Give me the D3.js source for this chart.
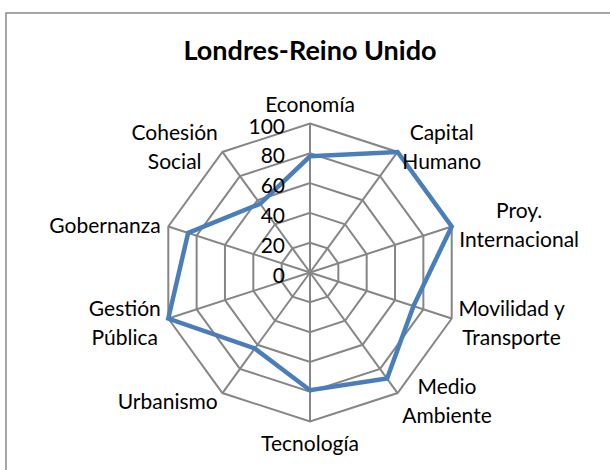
<!DOCTYPE html>
<html>
<head>
<meta charset="utf-8">
<script src="https://cdn.jsdelivr.net/npm/d3@7"></script>
<style>
  body { margin: 0; background: #fff; }
  svg { display: block; }
  text { font-family: Lato, "Open Sans", sans-serif; fill: #000; }
</style>
</head>
<body>
<div id="container"></div>
<script>
/**
 * DATA
 * */
const title = "Londres-Reino Unido";
const categories = [
  "Economía", "Capital\nHumano", "Proy.\nInternacional", "Movilidad y\nTransporte",
  "Medio\nAmbiente", "Tecnología", "Urbanismo", "Gestión\nPública",
  "Gobernanza", "Cohesión\nSocial"
];
const values = [78, 100, 100, 73, 88, 79, 63, 100, 86, 57];
const tickValues = [0, 20, 40, 60, 80, 100];

/**
 * CONSTANTS
 * */
const width = 610,
  height = 470,
  cx = 310,
  cy = 272.5,
  radius = 149,
  labelSize = 21,
  lineHeight = 29;

const svg = d3.select("#container")
  .append("svg")
  .attr("width", width)
  .attr("height", height);

// chart frame - right and bottom edges run past the picture
svg.append("rect")
  .attr("x", 6)
  .attr("y", 13)
  .attr("width", width)
  .attr("height", height)
  .attr("fill", "none")
  .attr("stroke", "#8a8a8a")
  .attr("stroke-width", 1.5);

svg.append("text")
  .attr("x", cx)
  .attr("y", 59.5)
  .attr("text-anchor", "middle")
  .style("font-weight", "bold")
  .style("font-size", "27px")
  .text(title);

const angle = d3.scaleLinear().domain([0, categories.length]).range([0, 2 * Math.PI]);
const r = d3.scaleLinear().domain([0, 100]).range([0, radius]);

const g = svg.append("g").attr("transform", `translate(${cx},${cy})`);

const radar = d3.lineRadial()
  .angle((d, i) => angle(i))
  .radius(d => r(d))
  .curve(d3.curveLinearClosed);

// rings
g.selectAll(".ring")
  .data(tickValues.slice(1))
  .join("path")
  .attr("class", "ring")
  .attr("d", t => radar(categories.map(() => t)))
  .attr("fill", "none")
  .attr("stroke", "#868686")
  .attr("stroke-width", 2);

// spokes
g.selectAll(".spoke")
  .data(categories)
  .join("line")
  .attr("class", "spoke")
  .attr("x1", 0)
  .attr("y1", 0)
  .attr("x2", (d, i) => r(100) * Math.sin(angle(i)))
  .attr("y2", (d, i) => -r(100) * Math.cos(angle(i)))
  .attr("stroke", "#868686")
  .attr("stroke-width", 2);

// the series
g.append("path")
  .attr("d", radar(values))
  .attr("fill", "none")
  .attr("stroke", "#4A7EBB")
  .attr("stroke-width", 4.5);

// value axis labels (drawn over the line like excel does)
g.selectAll(".tick")
  .data(tickValues)
  .join("text")
  .attr("class", "tick")
  .attr("x", -25)
  .attr("y", d => -r(d) + 1.5)
  .attr("text-anchor", "end")
  .attr("dominant-baseline", "central")
  .style("font-size", labelSize + "px")
  .text(d => d);

// category labels around the outside
categories.forEach((cat, i) => {
  const a = angle(i), s = Math.sin(a), c = Math.cos(a);
  const vertical = Math.abs(s) < 0.2;
  const gap = vertical ? 6 : 8;
  const px = (r(100) + gap) * s, py = -(r(100) + gap) * c;
  const lines = cat.split("\n");

  const txt = g.append("text")
    .attr("text-anchor", "middle")
    .attr("dominant-baseline", "central")
    .style("font-size", labelSize + "px");
  const spans = txt.selectAll("tspan")
    .data(lines)
    .join("tspan")
    .text(d => d);

  const w = d3.max(spans.nodes(), n => n.getComputedTextLength());
  const h = lines.length * lineHeight;
  let bx, by;
  if (vertical) {
    bx = px;
    by = c > 0 ? py - h / 2 : py + h / 2;
  } else {
    bx = px + Math.sign(s) * w / 2;
    by = py;
  }
  spans
    .attr("x", bx)
    .attr("y", (d, j) => by + (j - (lines.length - 1) / 2) * lineHeight);
});
</script>
</body>
</html>
